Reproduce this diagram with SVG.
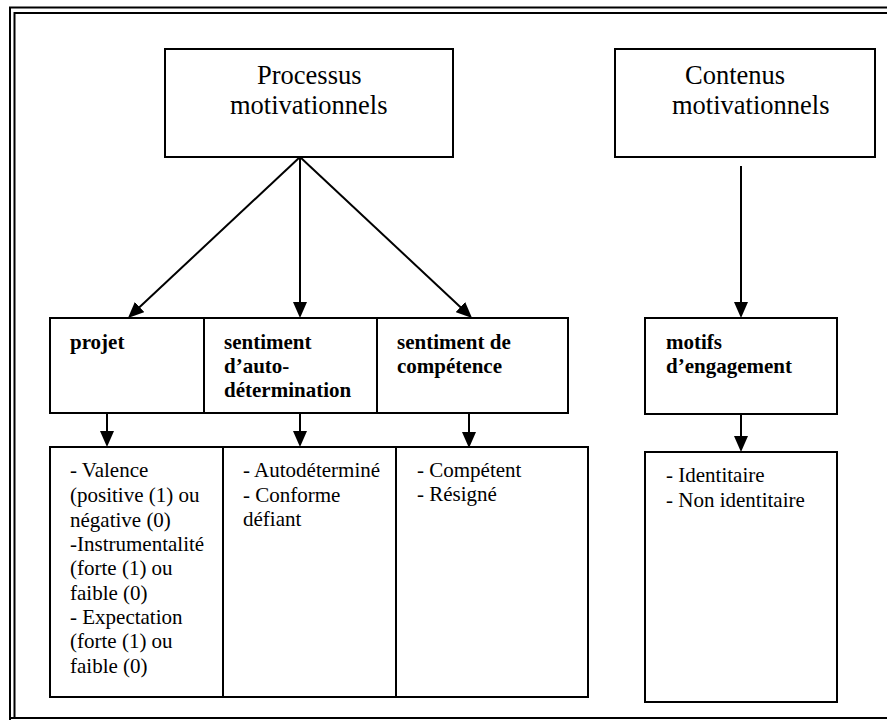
<svg xmlns="http://www.w3.org/2000/svg" width="887" height="720" viewBox="0 0 887 720">
<style>
.box{fill:#fff;stroke:#000;stroke-width:2}
.frame{fill:none;stroke:#000;stroke-width:2}
.con{fill:none;stroke:#000;stroke-width:2}
.big{font-family:"Liberation Serif","Times New Roman",serif;font-size:26.5px;fill:#000}
.b{font-family:"Liberation Serif","Times New Roman",serif;font-size:21px;font-weight:bold;fill:#000}
.t{font-family:"Liberation Serif","Times New Roman",serif;font-size:21px;fill:#000}
</style>
<defs>
<marker id="ah" markerUnits="userSpaceOnUse" markerWidth="16" markerHeight="14" refX="8" refY="7" orient="auto">
<path d="M0,0 L16,7 L0,14 z" fill="#000"/>
</marker>
</defs>
<rect width="887" height="720" fill="#fff"/>
<g id="frame">
<path class="frame" d="M10,720 V7.5 H887"/>
<path class="frame" d="M14.5,718 V13 H887"/>
<path class="frame" d="M10,718 H887" stroke-width="2.5"/>
</g>
<g id="processus">
<rect class="box" x="165" y="49" width="288" height="108"/>
<text class="big" x="257" y="84">Processus</text>
<text class="big" x="230" y="114">motivationnels</text>
</g>
<g id="contenus">
<rect class="box" x="615" y="49" width="260" height="108"/>
<text class="big" x="685" y="84">Contenus</text>
<text class="big" x="672" y="114">motivationnels</text>
</g>
<g id="projet">
<rect class="box" x="50" y="318" width="154" height="95"/>
<text class="b" x="70" y="349">projet</text>
</g>
<g id="autodetermination">
<rect class="box" x="204" y="318" width="173" height="95"/>
<text class="b" x="224" y="349">sentiment</text>
<text class="b" x="224" y="373">d’auto-</text>
<text class="b" x="224" y="397">détermination</text>
</g>
<g id="competence">
<rect class="box" x="377" y="318" width="191" height="95"/>
<text class="b" x="397" y="349">sentiment de</text>
<text class="b" x="397" y="373">compétence</text>
</g>
<g id="motifs">
<rect class="box" x="645" y="318" width="192" height="96"/>
<text class="b" x="666" y="349">motifs</text>
<text class="b" x="666" y="373">d’engagement</text>
</g>
<g id="liste-projet">
<rect class="box" x="50" y="447" width="173" height="250"/>
<text class="t" x="70" y="477">- Valence</text>
<text class="t" x="70" y="502">(positive (1) ou</text>
<text class="t" x="70" y="526.5">négative (0)</text>
<text class="t" x="70" y="551">-Instrumentalité</text>
<text class="t" x="70" y="575">(forte (1) ou</text>
<text class="t" x="70" y="600">faible (0)</text>
<text class="t" x="70" y="624">- Expectation</text>
<text class="t" x="70" y="648">(forte (1) ou</text>
<text class="t" x="70" y="673">faible (0)</text>
</g>
<g id="liste-autodetermination">
<rect class="box" x="223" y="447" width="173" height="250"/>
<text class="t" x="243" y="477">- Autodéterminé</text>
<text class="t" x="243" y="501.5">- Conforme</text>
<text class="t" x="243" y="526">défiant</text>
</g>
<g id="liste-competence">
<rect class="box" x="396" y="447" width="192" height="250"/>
<text class="t" x="417" y="477">- Compétent</text>
<text class="t" x="417" y="501">- Résigné</text>
</g>
<g id="liste-motifs">
<rect class="box" x="645" y="452" width="192" height="250"/>
<text class="t" x="666" y="482">- Identitaire</text>
<text class="t" x="666" y="507">- Non identitaire</text>
</g>
<g id="connectors">
<line class="con" x1="300" y1="157" x2="133.8" y2="312.5" marker-end="url(#ah)"/>
<line class="con" x1="300" y1="157" x2="300" y2="310" marker-end="url(#ah)"/>
<line class="con" x1="300" y1="157" x2="466.2" y2="312.5" marker-end="url(#ah)"/>
<line class="con" x1="741" y1="166" x2="741" y2="310" marker-end="url(#ah)"/>
<line class="con" x1="107" y1="413" x2="107" y2="439" marker-end="url(#ah)"/>
<line class="con" x1="300" y1="413" x2="300" y2="439" marker-end="url(#ah)"/>
<line class="con" x1="469" y1="413" x2="469" y2="440" marker-end="url(#ah)"/>
<line class="con" x1="741" y1="414" x2="741" y2="444" marker-end="url(#ah)"/>
</g>
</svg>
